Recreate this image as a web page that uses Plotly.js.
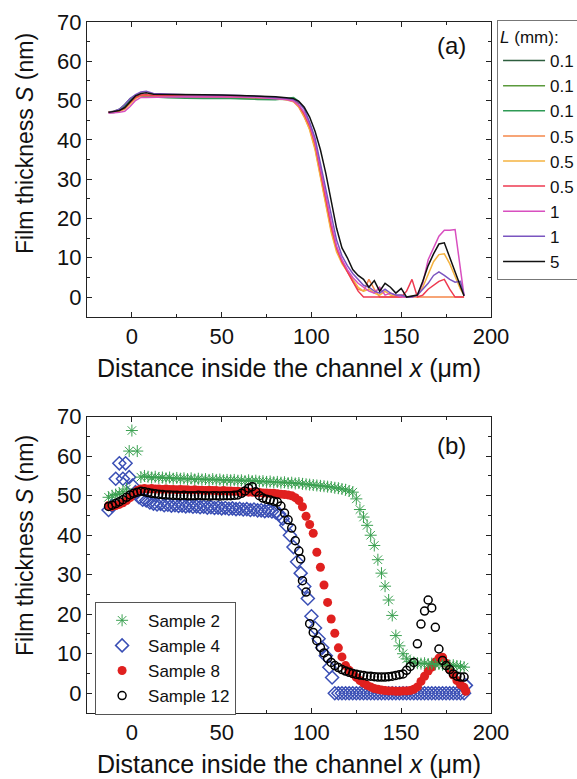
<!DOCTYPE html>
<html><head><meta charset="utf-8">
<script src="https://cdn.plot.ly/plotly-3.0.1.min.js"></script>
<style>html,body{margin:0;padding:0;background:#fff;} #chart{width:577px;height:779px;}</style>
</head><body><div id="chart"></div>
<script>
// ---------- Panel (a): film thickness profiles, lines ----------
const xA = [-13,-10,-7,-4,-1,2,5,8,12,20, 30,40,50,60,70,80,86,90,93,96, 99,102,105,108,111,114,117,120,123,126, 129,132,135,138,141,144,147,150,153,156, 159,162,165,168,171,174,177,180,183,185];
const xG = [-13,-10,-7,-4,-1,2,5,8,12,20,30,40,50,60,70,80,86,90,93];
const yDarkGreen01 = [47,47,47.3,48.5,50,51,51.3,51.2,51.1,51,51,50.9,50.8,50.7,50.6,50.6,50.4,50.2,49.5];
const yOlive01 = [47.1,47.3,47.8,49,50.5,51.2,51.2,51.1,51,51,50.8,50.8,50.7,50.6,50.5,50.4,50.3,50,49.2];
const yGreen01 = [47,47.2,47.6,48.8,50.3,51,51.1,51,50.8,50.7,50.6,50.5,50.6,50.4,50.3,50.2,50.6,50.8,49.8];
const yOrange05 = [47,47.2,47.4,48,49.4,50.7,51.2,51.3,51.2,51.1, 51.1,51,51,50.9,50.8,50.6,50.2,49.7,48.3,45.8, 42.8,38,31,24,17,12,9,6.5,4,2, 1.5,4.5,2,0,0,0,0,0,0,0, 0,0,0,0,0,0,0,0,0,0];
const yAmber05 = [47,47.1,47.3,47.8,49.2,50.5,51.3,51.4,51.3,51.2, 51.2,51.1,51.1,51,50.9,50.7,50.3,49.8,48.5,46, 42.5,37.5,30.5,23.5,16.5,11.5,8.5,6.5,4.5,2.5, 1.5,2,1,0.5,1.5,0.5,0.3,0.5,0,0.2, 0.3,2.5,6,9,10.8,11,8.5,5,2,0.5];
const yRed05 = [47.1,47.2,47.5,48,49.5,50.8,51.4,51.5,51.3,51.2, 51.2,51.1,51.1,51,50.9,50.7,50.4,50,48.8,46.5, 43.5,39,32,25,18,12.5,9,6.5,4,1.5, 0,0,0,0,0,0,0,0,1.5,4.5, 0,0.5,2,3,4,4.5,2,0,0,0];
const yMagenta1 = [46.8,46.9,47,47.3,48.5,50,50.8,50.8,50.8,50.9, 51,51,50.9,50.9,50.8,50.6,50.3,49.9,48.8,47, 44,39.5,33,26,19,13,9.5,7,5,3.5, 2.5,1.5,1,2.5,0.5,1,0.5,0,0,0, 0.5,3.5,9.5,12.5,15.5,17,17,17.2,7,0.3];
const yPurple1 = [47,47.3,47.8,49,50.5,51.5,52.2,52.4,51.8,51.6, 51.5,51.4,51.4,51.3,51.1,50.9,50.6,50.3,49.5,47.8, 44.5,40.5,34,27.5,20.5,14.5,10.5,8,6,4.5, 3,2.5,1.5,1,2,1,0.5,0.5,0,0, 0.5,2,3.5,5.5,6.4,5.5,4.5,3.8,4,0.5];
const yBlack5 = [47,47.2,47.5,48.2,49.8,51.2,51.8,52,51.6,51.6, 51.5,51.5,51.4,51.3,51.1,51,50.7,50.5,49.8,48.3, 45.8,42.2,37.5,31.5,24.5,17.5,12.5,10,7,5.5, 4.5,2.5,4.2,1.5,3.5,2.5,1,2.2,0,0.3, 0.5,4,8,11,13.5,13.8,10.2,6.3,2.6,0.3];
const lineNames = ['0.1','0.1','0.1','0.5','0.5','0.5','1','1','5'];

// ---------- Panel (b): samples, markers ----------
const x2 = [-13,-11,-9,-7,-5,-3,-1.5,0,3,5, 7,9,11,13,15,17,19,21,23,25, 27,29,31,33,35,37,39,41,43,45, 47,49,51,53,55,57,59,61,63,65, 67,69,71,73,75,77,79,81,83,85, 87,89,91,93,95,97,99,101,103,105, 107,109,111,113,115,117,119,121,123,125, 127,129,131,133,135,137,139,141,143,145, 147,149,151,153,155,157,159,161,163,165, 167,169,171,173,175,177,179,181,183,185];
const y2 = [49.6,50,50.3,50.6,51,51.7,61.3,66.5,61.3,54.7, 55,54.8,54.6,54.8,54.5,54.6,54.4,54.6,54.3,54.5, 54.3,54.4,54.2,54.4,54.1,54.3,54.1,54.2,54,54.2, 54,54.1,53.9,54,53.9,54,53.8,53.9,53.7,53.9, 53.7,53.8,53.6,53.7,53.5,53.6,53.4,53.5,53.3,53.4, 53.2,53.3,53.1,53.2,53,52.9,52.8,52.7,52.6,52.5, 52.4,52.3,52.2,52,51.9,51.7,51.5,51.2,50.9,49.2, 46.5,44.6,42.5,40,37.4,33.8,30.4,27.1,23.6,19.7, 14.6,12,10,8.7,8,7.8,7.6,7.5,7.6,7.4, 7.5,7.3,7.4,7.2,7.3,7,7.1,6.9,6.8,6.6];
const x4 = [-13,-11,-9,-7,-5,-3.5,-1.5,0.3,2,4, 6,8,10,12,14,16,18,20,22,24, 26,28,30,32,34,36,38,40,42,44, 46,48,50,52,54,56,58,60,62,64, 66,68,70,72,74,76,78,80,82,84, 86,88,90,92,94,96,98,100,102,104, 106,108,110,111.5,113,115,117,119,121,123, 125,127,129,131,133,135,137,139,141,143, 145,147,149,151,153,155,157,159,161,163, 165,167,169,171,173,175,177,179,181,183, 185,186];
const y4 = [46.4,47.5,54.3,58.2,54.3,58.2,54.7,52.6,50.9,49.6, 49,48.8,48.3,48,47.8,47.9,47.6,47.7,47.5,47.6, 47.4,47.5,47.3,47.4,47.2,47.3,47.1,47.2,47,47.1, 46.9,47,46.8,46.9,46.7,46.8,46.6,46.7,46.5,46.6, 46.4,46.5,46.3,46.3,46.1,46.2,46,45.8,45.4,44.2, 42.5,40,37,33.3,30.4,27,24,19.5,16.5,13.8, 11.5,9.5,6.6,4,0,0,0,0,0,0, 0,0,0,0,0,0,0,0,0,0, 0,0,0,0,0,0,0,0,0,0, 0,0,0,0,0,0,0,0,0,0, 0,2];
const x8 = [-13,-11,-9,-7,-5,-3,-1,1,3,5, 7,9,11,13,15,17,19,21,23,25, 27,29,31,33,35,37,39,41,43,45, 47,49,51,53,55,57,59,61,63,65, 67,69,71,73,75,77,79,81,83,85, 87,89,91,93,95,97,99,101,103,105, 107,109,111,113,115,117,119,121,123,125, 127,129,131,133,135,137,139,141,143,145, 147,149,151,153,155,157,159,161,163,165, 167,169,171,173,175,177,179,181,183,185, 186];
const y8 = [47.5,47.3,47.5,47.8,48.2,48.8,49.5,50.5,51.3,51.7, 51.8,51.7,51.8,51.7,51.7,51.6,51.7,51.6,51.6,51.5, 51.6,51.5,51.5,51.4,51.5,51.4,51.4,51.3,51.4,51.3, 51.3,51.2,51.3,51.2,51.2,51.1,51.1,51,51,50.9, 50.9,50.8,50.8,50.7,50.7,50.6,50.6,50.5,50.4,50.3, 50.2,50,49.5,48.8,47.2,44.8,42.7,40.5,35.7,31.9, 27.4,23,18.8,15.2,11.5,9.2,7,5.8,4.9,4, 3.2,2.6,2,1.6,1.2,1,0.8,0.7,0.6,0.6, 0.5,0.5,0.6,0.6,0.7,1,1.6,3,4.3,5.6, 6.6,7.9,8.9,9.1,7.6,6,4.6,3.2,2.2,1.5, 0.5];
const x12 = [-13,-11,-9,-7,-5,-3,-1,1,3,5, 7,9,11,13,15,17,19,21,23,25, 27,29,31,33,35,37,39,41,43,45, 47,49,51,53,55,57,59,61,63,65, 67,69,71,73,75,77,79,81,83,85, 87,89,91,93,94,95,97,99,101,103, 105,107,109,111,113,115,117,119,121,123, 125,127,129,131,133,135,137,139,141,143, 145,147,149,151,153,155,157,159,161,163, 165,167,169,171,173,175,177,179,181,183, 185];
const y12 = [47.3,47.6,48,48.5,49,49.6,50.2,50.6,50.9,51.1, 51,50.8,50.6,50.5,50.4,50.3,50.2,50.2,50.1,50.1, 50,50.1,50,50,50,50.1,50,50,49.9,50, 50,49.9,50,50,50,50.1,50.2,50.6,51.2,51.9, 52.3,51,50,49.4,49.1,48.9,48.6,48.4,47.4,45.6, 43.9,41.8,38.6,36,34,28.5,25.6,17.6,15.4,13.3, 11.6,10.2,8.8,7.8,7,6.5,6,5.6,5.3,5, 4.8,4.6,4.5,4.3,4.3,4.2,4.1,4.1,4.1,4.2, 4.3,4.5,4.7,4.9,5.8,6.8,7.8,12.5,17.5,20.8, 23.6,21.6,16.7,11.2,8.3,7,6,4.9,4.3,4.1, 4.1];
const sampleNames = ['Sample 2','Sample 4','Sample 8','Sample 12'];

const FONT = 'Liberation Sans, Arial, sans-serif';
const INK = '#111';
const YTITLE = 'Film thickness <i>S</i> (nm)';

function lineTrace(x, y, name, color) {
  return {type:'scatter', mode:'lines', x:x, y:y, name:name, xaxis:'x', yaxis:'y', legend:'legend',
    line:{color:color, width:1.5}, hoverinfo:'skip'};
}
function markTrace(x, y, name, symbol, color, size, lw, rank) {
  return {type:'scatter', mode:'markers', x:x, y:y, name:name, xaxis:'x2', yaxis:'y2', legend:'legend2', legendrank:rank,
    marker:{symbol:symbol, color:color, size:size, line:{color:color, width:lw}}, hoverinfo:'skip'};
}

const traces = [
  lineTrace(xG, yDarkGreen01, lineNames[0], '#2d5e3e'),
  lineTrace(xG, yOlive01, lineNames[1], '#5b9a3c'),
  lineTrace(xG, yGreen01, lineNames[2], '#2e9a55'),
  lineTrace(xA, yOrange05, lineNames[3], '#f5874a'),
  lineTrace(xA, yAmber05, lineNames[4], '#f4b340'),
  lineTrace(xA, yRed05, lineNames[5], '#ee3a50'),
  lineTrace(xA, yMagenta1, lineNames[6], '#d84fbf'),
  lineTrace(xA, yPurple1, lineNames[7], '#7a55c0'),
  lineTrace(xA, yBlack5, lineNames[8], '#111111'),
  markTrace(x4, y4, sampleNames[1], 'diamond-open', '#3a4fb5', 10, 1.5, 2),
  markTrace(x8, y8, sampleNames[2], 'circle', '#e0201f', 9, 0, 3),
  markTrace(x2, y2, sampleNames[0], 'asterisk-open', '#3aa050', 10, 1, 1),
  markTrace(x12, y12, sampleNames[3], 'circle-open', '#000000', 8, 1.5, 4)
];

function xAx(anchor) {
  return {anchor:anchor, domain:[0,1], range:[-25,200], tick0:0, dtick:50,
    ticks:'inside', ticklen:5, tickwidth:1, tickcolor:'#222',
    showline:true, linecolor:'#222', linewidth:1, mirror:'ticks',
    showgrid:false, zeroline:false,
    tickfont:{family:FONT, size:22, color:INK},
    minor:{ticks:'inside', ticklen:3, dtick:25, tick0:0, tickcolor:'#222', showgrid:false},
    title:{text:'Distance inside the channel <i>x</i> (μm)', font:{family:FONT, size:25, color:INK}, standoff:11},
    fixedrange:true};
}
function yAx(anchor, domain) {
  return {anchor:anchor, domain:domain, range:[-5,70], tick0:0, dtick:10,
    ticks:'inside', ticklen:5, tickwidth:1, tickcolor:'#222',
    showline:true, linecolor:'#222', linewidth:1, mirror:'ticks',
    showgrid:false, zeroline:false,
    tickfont:{family:FONT, size:22, color:INK},
    minor:{ticks:'inside', ticklen:3, dtick:5, tick0:0, tickcolor:'#222', showgrid:false},
    fixedrange:true};
}

const layout = {
  width:577, height:779,
  margin:{l:87, r:86, t:22, b:66, autoexpand:false},
  paper_bgcolor:'#fff', plot_bgcolor:'#fff',
  font:{family:FONT, color:INK},
  showlegend:true,
  xaxis:xAx('y'), yaxis:yAx('x',[0.5735,1]),
  xaxis2:xAx('y2'), yaxis2:yAx('x2',[0,0.4288]),
  legend:{x:1.015, xanchor:'left', y:1.003, yanchor:'top', bgcolor:'#fff', bordercolor:'#777', borderwidth:1,
    font:{family:FONT, size:17, color:INK}, itemwidth:42, tracegroupgap:0, traceorder:'normal',
    title:{text:'<i>L</i> (mm):', font:{family:FONT, size:17, color:INK}}},
  legend2:{x:0.02, xanchor:'left', y:0.161, yanchor:'top', bgcolor:'#fff', bordercolor:'#555', borderwidth:1,
    font:{family:FONT, size:17, color:INK}, itemwidth:42, traceorder:'normal'},
  annotations:[
    {text:'(a)', xref:'x domain', yref:'y domain', x:0.901, y:0.921, xanchor:'center', yanchor:'middle', showarrow:false, font:{family:FONT, size:24, color:INK}},
    {text:'(b)', xref:'x2 domain', yref:'y2 domain', x:0.901, y:0.904, xanchor:'center', yanchor:'middle', showarrow:false, font:{family:FONT, size:24, color:INK}},
    {text:YTITLE, xref:'paper', yref:'paper', x:-0.1535, y:0.8249, textangle:-90, xanchor:'center', yanchor:'middle', showarrow:false, font:{family:FONT, size:23, color:INK}},
    {text:YTITLE, xref:'paper', yref:'paper', x:-0.1535, y:0.2431, textangle:-90, xanchor:'center', yanchor:'middle', showarrow:false, font:{family:FONT, size:23, color:INK}}
  ]
};

Plotly.newPlot('chart', traces, layout, {displayModeBar:false, staticPlot:true});
</script>
</body></html>
